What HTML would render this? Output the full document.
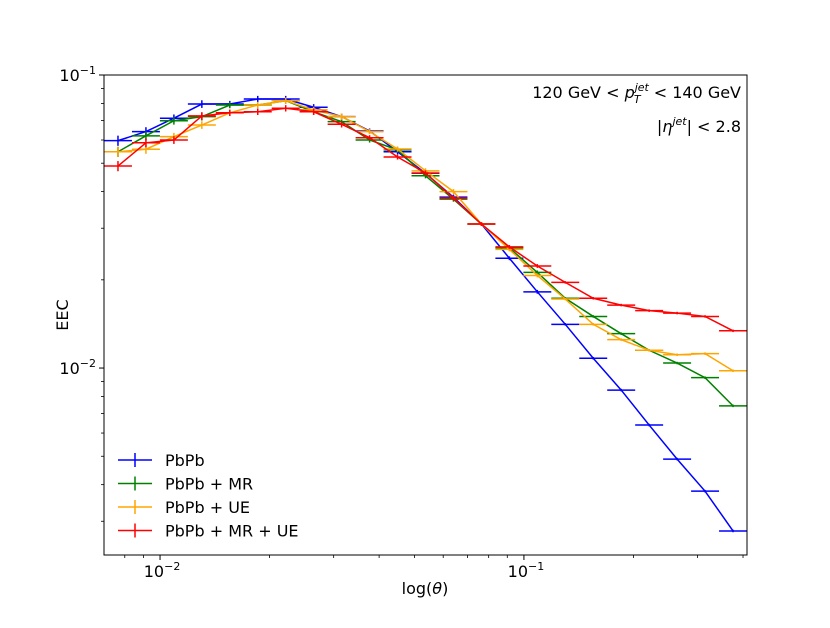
<!DOCTYPE html>
<html><head><meta charset="utf-8"><style>
body{margin:0;background:#fff}
svg text{font-family:"DejaVu Sans","Liberation Sans",sans-serif;fill:#000}
</style></head><body>
<svg id="chart" width="830" height="623" viewBox="0 0 830 623" xmlns="http://www.w3.org/2000/svg">
<rect width="830" height="623" fill="#fff"/>
<g id="marks"></g>
<g id="axes"></g>
<text x="741" y="98" font-size="16" text-anchor="end">120 GeV &lt; <tspan font-style="italic">p</tspan><tspan font-size="11" font-style="italic" dy="-7">jet</tspan><tspan font-size="11" font-style="italic" dx="-15" dy="12">T</tspan><tspan dy="-5" dx="8"> &lt; 140 GeV</tspan></text>
<text x="741" y="132" font-size="16" text-anchor="end">|<tspan font-style="italic">η</tspan><tspan font-size="11" font-style="italic" dy="-7">jet</tspan><tspan dy="7">| &lt; 2.8</tspan></text>
<text x="0" y="0" font-size="16" text-anchor="middle" transform="translate(68,315) rotate(-90)">EEC</text>
<text x="425" y="594" font-size="16" text-anchor="middle">log(<tspan font-style="italic">θ</tspan>)</text>
<g id="legend"></g>
</svg>
<script>
const NS="http://www.w3.org/2000/svg";
const seriesNames=["PbPb","PbPb + MR","PbPb + UE","PbPb + MR + UE"];
const seriesColors=["#0000ff","#008000","#ffa500","#ff0000"];
const nBins=23;
const logThetaMin=-2.154, logThetaMax=-0.387;
const pbpb=[0.0597,0.0641,0.0712,0.0796,0.0796,0.0828,0.0828,0.0776,0.0721,0.0644,0.0547,0.0462,0.0383,0.0310,0.0237,0.0182,0.0141,0.0108,0.00841,0.00639,0.00489,0.00380,0.00278];
const pbpbMR=[0.0547,0.0620,0.0698,0.0721,0.0790,0.0790,0.0817,0.0749,0.0693,0.0600,0.0555,0.0453,0.0377,0.0310,0.0257,0.0212,0.0173,0.0150,0.0131,0.0115,0.0104,0.00927,0.00743];
const pbpbUE=[0.0547,0.0558,0.0616,0.0675,0.0743,0.0790,0.0817,0.0760,0.0721,0.0641,0.0559,0.0471,0.0400,0.0310,0.0254,0.0207,0.0172,0.0141,0.0125,0.0115,0.0111,0.0112,0.00979];
const pbpbMRUE=[0.0489,0.0587,0.0600,0.0725,0.0743,0.0749,0.0770,0.0749,0.0679,0.0611,0.0525,0.0463,0.0380,0.0310,0.0259,0.0223,0.0196,0.0173,0.0164,0.0157,0.0154,0.0150,0.0134];
const relErr=[0.04,0.035,0.03,0.03,0.025,0.025,0.025,0.025,0.025,0.02,0.02,0.02,0.02,0.015,0.015,0.015,0.01,0.01,0.01,0.01,0.01,0.01,0.01];
const allSeries=[pbpb,pbpbMR,pbpbUE,pbpbMRUE];
const xTickLabels=["−2","−1"];const xTickExp=[-2,-1];
const yTickLabels=["−2","−1"];const yTickExp=[-2,-1];

const L=104,R=747,T=75,B=555;
const yLogMin=-2.638,yLogMax=-1;
function xs(logT){return L+(logT-logThetaMin)/(logThetaMax-logThetaMin)*(R-L);}
function ys(v){return T+(yLogMax-Math.log10(v))/(yLogMax-yLogMin)*(B-T);}
const bw=(logThetaMax-logThetaMin)/nBins;
function edge(i){return logThetaMin+i*bw;}
function center(i){return logThetaMin+(i+0.5)*bw;}

const marks=document.getElementById('marks');
function line(p,x1,y1,x2,y2,c,w){const l=document.createElementNS(NS,'line');l.setAttribute('x1',x1);l.setAttribute('y1',y1);l.setAttribute('x2',x2);l.setAttribute('y2',y2);l.setAttribute('stroke',c);l.setAttribute('stroke-width',w);p.appendChild(l);return l;}
const clip=document.createElementNS(NS,'clipPath');clip.setAttribute('id','pc');
const cr=document.createElementNS(NS,'rect');cr.setAttribute('x',L);cr.setAttribute('y',T);cr.setAttribute('width',R-L);cr.setAttribute('height',B-T);clip.appendChild(cr);marks.appendChild(clip);
marks.setAttribute('clip-path','url(#pc)');
allSeries.forEach((s,k)=>{
  const g=document.createElementNS(NS,'g');
  
  
  marks.appendChild(g);
  const pl=document.createElementNS(NS,'polyline');
  pl.setAttribute('points',s.map((v,i)=>xs(center(i))+','+ys(v)).join(' '));
  pl.setAttribute('fill','none');pl.setAttribute('stroke',seriesColors[k]);pl.setAttribute('stroke-width','1.5');
  
  
  g.appendChild(pl);
  s.forEach((v,i)=>{
    const h=line(g,xs(edge(i)),ys(v),xs(edge(i+1)),ys(v),seriesColors[k],1.5);
    
    
    const e=v*relErr[i];
    const vb=line(g,xs(center(i)),ys(v+e),xs(center(i)),ys(v-e),seriesColors[k],1.5);
    
    
  });
});

const ax=document.getElementById('axes');
const fr=document.createElementNS(NS,'rect');fr.setAttribute('x',L);fr.setAttribute('y',T);fr.setAttribute('width',R-L);fr.setAttribute('height',B-T);fr.setAttribute('fill','none');fr.setAttribute('stroke','#000');fr.setAttribute('stroke-width','1');


ax.appendChild(fr);
function lab(x,y,base,exp,anchor,name){const t=document.createElementNS(NS,'text');t.setAttribute('x',x);t.setAttribute('y',y);t.setAttribute('font-size','16');t.setAttribute('text-anchor',anchor);
 
 
 t.innerHTML=base+'<tspan font-size="11" dy="-7">'+exp+'</tspan>';ax.appendChild(t);}
xTickExp.forEach((e,i)=>{const x=xs(e);line(ax,x,B,x,B+5,'#000',1);lab(x+2,B+22,'10',xTickLabels[i],'middle','x-tick-label');});
for(let d=-3;d<=0;d++)for(let m=2;m<=9;m++){const lt=d+Math.log10(m);if(lt>logThetaMin&&lt<logThetaMax){const x=xs(lt);line(ax,x,B,x,B+3,'#000',0.8);}}
yTickExp.forEach((e,i)=>{const y=ys(Math.pow(10,e));line(ax,L-5,y,L,y,'#000',1);lab(L-8,y+6,'10',yTickLabels[i],'end','y-tick-label');});
for(let d=-3;d<=-1;d++)for(let m=2;m<=9;m++){const v=m*Math.pow(10,d);const lv=Math.log10(v);if(lv>yLogMin&&lv<yLogMax){const y=ys(v);line(ax,L-3,y,L,y,'#000',0.8);}}

const lg=document.getElementById('legend');
seriesNames.forEach((n,k)=>{
  const y=460+k*23.5;
  const g=document.createElementNS(NS,'g');
  
  
  lg.appendChild(g);
  line(g,118,y,152,y,seriesColors[k],1.5);line(g,135,y-7,135,y+7,seriesColors[k],1.5);
  const t=document.createElementNS(NS,'text');t.setAttribute('x',165);t.setAttribute('y',y+6);t.setAttribute('font-size','16');t.textContent=n;g.appendChild(t);
});
</script>
</body></html>
